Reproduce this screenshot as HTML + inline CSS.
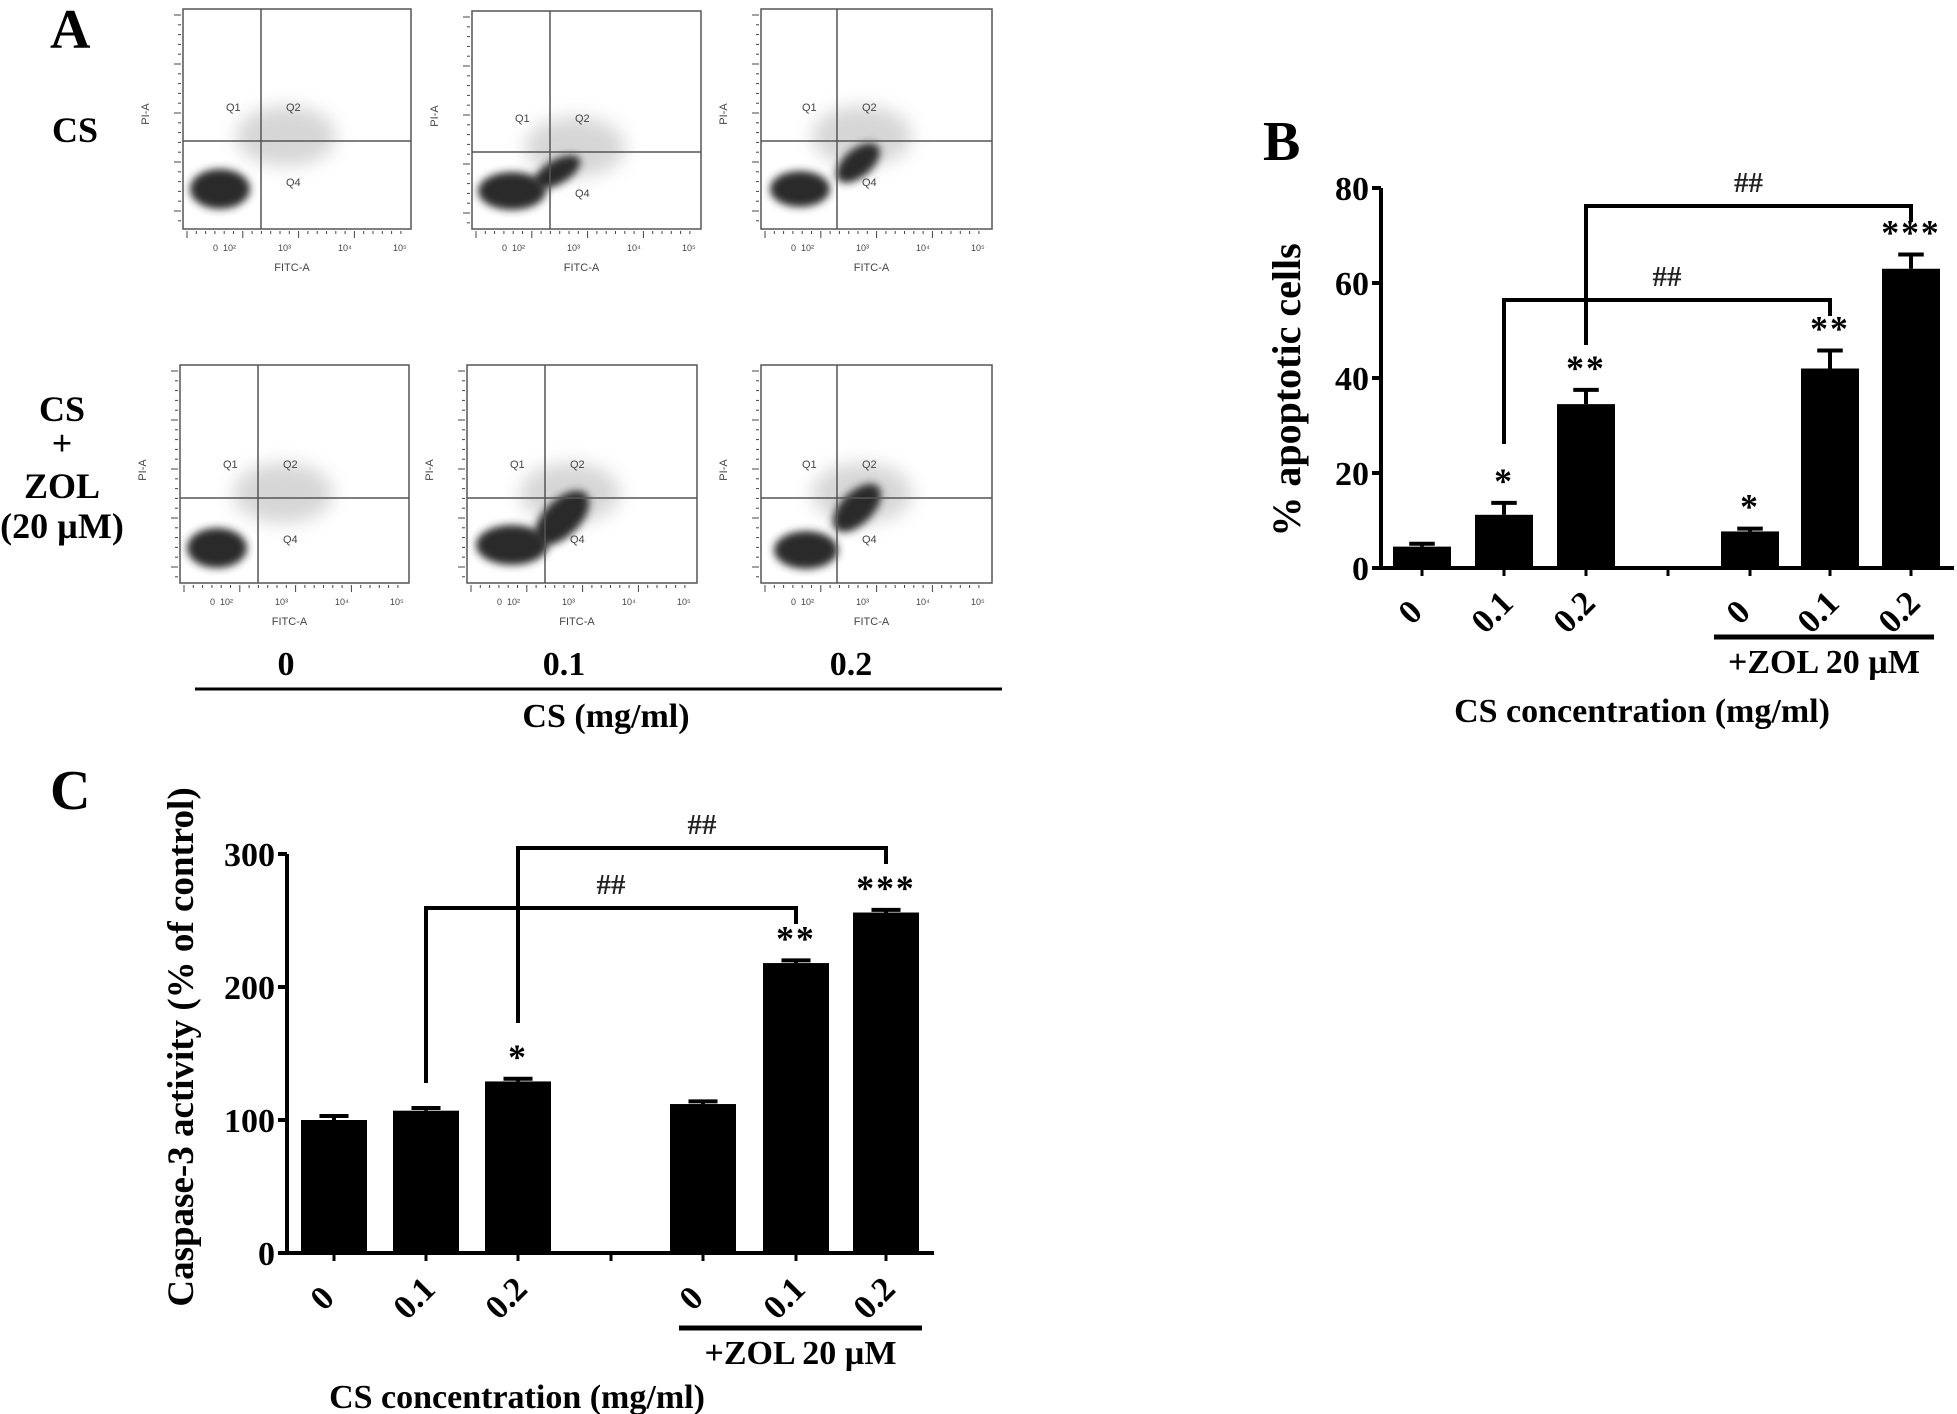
<!DOCTYPE html>
<html><head><meta charset="utf-8"><style>
html,body{margin:0;padding:0;background:#fff;}
svg{display:block;font-family:"Liberation Serif",serif;}
</style></head><body>
<svg id="fig" width="1957" height="1414" viewBox="0 0 1957 1414" xmlns="http://www.w3.org/2000/svg">
<defs><filter id="bl" x="-50%" y="-50%" width="200%" height="200%"><feGaussianBlur stdDeviation="4"/></filter>
<filter id="bl2" x="-50%" y="-50%" width="200%" height="200%"><feGaussianBlur stdDeviation="9"/></filter></defs>
<g id="panelA">
<text x="50" y="48" font-size="56" font-weight="bold">A</text>
<text x="75" y="142" font-size="36" font-weight="bold" text-anchor="middle">CS</text>
<g font-size="36" font-weight="bold" text-anchor="middle">
<text x="62" y="421">CS</text><text x="62" y="455">+</text><text x="62" y="498">ZOL</text><text x="62" y="538">(20 µM)</text></g>
<g id="flows"></g>
<g font-size="34" font-weight="bold" text-anchor="middle">
<text x="286" y="675">0</text>
<text x="564" y="675">0.1</text>
<text x="851" y="675">0.2</text>
<text x="606" y="727">CS (mg/ml)</text></g>
<line x1="195" y1="689" x2="1002" y2="689" stroke="#000" stroke-width="3"/>
</g>
<g id="panelB">
<text x="1263" y="160" font-size="56" font-weight="bold">B</text></g>
<g id="panelC">
<text x="50" y="809" font-size="56" font-weight="bold">C</text></g>
</svg>
<script>
// Panel B data
const bCategories = ["0","0.1","0.2","0","0.1","0.2"];
const bValues = [4.5, 11.2, 34.5, 7.7, 42, 63];
const bErrors = [0.6, 2.5, 3.0, 0.6, 3.8, 3.0];
const bStars = ["", "*", "**", "*", "**", "***"];
const bTicks = [0, 20, 40, 60, 80];
// Panel C data
const cCategories = ["0","0.1","0.2","0","0.1","0.2"];
const cValues = [100, 107, 129, 112, 218, 256];
const cErrors = [3, 2, 2, 2, 2, 2];
const cStars = ["", "", "*", "", "**", "***"];
const cTicks = [0, 100, 200, 300];

const NS = "http://www.w3.org/2000/svg";
function mk(parent, tag, attrs, text){
  const e = document.createElementNS(NS, tag);
  for (const k in attrs) e.setAttribute(k, attrs[k]);
  if (text !== undefined) e.textContent = text;
  parent.appendChild(e); return e;
}

function barChart(g, cfg){
  const {x0, x1, y0, yTop, vMax, centers, barW, cats, vals, errs, stars, ticks, fs, gapX, br, title, ylabel, zol, xlabY} = cfg;
  const ys = v => y0 - (v / vMax) * (y0 - yTop);
  vals.forEach((v, i) => {
    const cx = centers[i];
    const eTop = ys(v + errs[i]);
    const el = mk(g, "line", {x1: cx, x2: cx, y1: ys(v), y2: eTop, stroke: "#000", "stroke-width": 4});
    
    
    const cap = mk(g, "line", {x1: cx - barW * 0.22, x2: cx + barW * 0.22, y1: eTop, y2: eTop, stroke: "#000", "stroke-width": 4});
    
    
    const r = mk(g, "rect", {x: cx - barW / 2, y: ys(v), width: barW, height: y0 - ys(v), fill: "#000"});
    
    
    if (stars[i]) {
      const s = mk(g, "text", {x: cx, y: eTop - 10, "font-size": fs * 1.05, "font-weight": "bold", "text-anchor": "middle", "letter-spacing": 2}, stars[i]);
      
      
    }
    const t = mk(g, "text", {x: 0, y: 0, "font-size": fs, "font-weight": "bold", "text-anchor": "middle",
      transform: `translate(${cx - 4},${xlabY}) rotate(-45)`}, cats[i]);
    
    
    const tk = mk(g, "line", {x1: cx, x2: cx, y1: y0, y2: y0 + 8, stroke: "#000", "stroke-width": 3});
    
    
  });
  const gt = mk(g, "line", {x1: gapX, x2: gapX, y1: y0, y2: y0 + 8, stroke: "#000", "stroke-width": 3});
  
  
  const ya = mk(g, "line", {x1: x0, x2: x0, y1: ys(vMax), y2: y0 + 2, stroke: "#000", "stroke-width": 4});
  
  
  const xa = mk(g, "line", {x1: x0, x2: x1, y1: y0, y2: y0, stroke: "#000", "stroke-width": 4});
  
  
  ticks.forEach(t => {
    const l = mk(g, "line", {x1: x0 - 9, x2: x0, y1: ys(t), y2: ys(t), stroke: "#000", "stroke-width": 4});
    
    
    const tx = mk(g, "text", {x: x0 - 12, y: ys(t) + fs * 0.35, "font-size": fs, "font-weight": "bold", "text-anchor": "end"}, String(t));
    
    
  });
  br.forEach(b => {
    const p = mk(g, "path", {d: `M${centers[b.from]},${b.fromY} V${b.y} H${centers[b.to]} V${b.toY}`, fill: "none", stroke: "#000", "stroke-width": 4});
    
    
    const h = mk(g, "text", {x: (centers[b.from] + centers[b.to]) / 2, y: b.y - 14, "font-size": fs * 0.85, "font-weight": "bold", "text-anchor": "middle", fill: "#222"}, "##");
    
    
  });
  const yl = mk(g, "text", {x: 0, y: 0, "font-size": ylabel.fs, "font-weight": "bold", "text-anchor": "middle",
    transform: `translate(${ylabel.x},${ylabel.y}) rotate(-90)`}, ylabel.text);
  
  
  const zl = mk(g, "line", {x1: zol.x1, x2: zol.x2, y1: zol.y, y2: zol.y, stroke: "#000", "stroke-width": 5});
  
  
  const zt = mk(g, "text", {x: (zol.x1 + zol.x2) / 2, y: zol.y + 36, "font-size": fs, "font-weight": "bold", "text-anchor": "middle"}, "+ZOL 20 µM");
  
  
  const xt = mk(g, "text", {x: title.x, y: title.y, "font-size": fs, "font-weight": "bold", "text-anchor": "middle"}, "CS concentration (mg/ml)");
  
  
}

barChart(document.getElementById("panelB"), {
  x0: 1381, x1: 1954, y0: 568, yTop: 188, vMax: 80,
  centers: [1422, 1504, 1586, 1750, 1830, 1911], barW: 58,
  cats: bCategories, vals: bValues, errs: bErrors, stars: bStars, ticks: bTicks, fs: 34, gapX: 1668,
  br: [{from: 2, to: 5, y: 206, fromY: 345, toY: 222}, {from: 1, to: 4, y: 300, fromY: 444, toY: 316}],
  ylabel: {x: 1300, y: 390, text: "% apoptotic cells", fs: 40},
  zol: {x1: 1714, x2: 1934, y: 637}, title: {x: 1642, y: 722}, xlabY: 620
});
barChart(document.getElementById("panelC"), {
  x0: 287, x1: 934, y0: 1253, yTop: 854, vMax: 300,
  centers: [334, 426, 518, 703, 796, 886], barW: 66,
  cats: cCategories, vals: cValues, errs: cErrors, stars: cStars, ticks: cTicks, fs: 34, gapX: 611,
  br: [{from: 2, to: 5, y: 848, fromY: 1023, toY: 864}, {from: 1, to: 4, y: 908, fromY: 1083, toY: 924}],
  ylabel: {x: 193, y: 1047, text: "Caspase-3 activity (% of control)", fs: 37},
  zol: {x1: 679, x2: 922, y: 1328}, title: {x: 517, y: 1408}, xlabY: 1306
});

// Flow cytometry panels (illustrative density blobs)
const flowPlots = [
  {x:183,y:9,w:228,h:220,vx:261,hy:141,blobs:[[220,189,30,20]],tails:[]},
  {x:472,y:11,w:229,h:218,vx:550,hy:152,blobs:[[512,191,34,19]],tails:[[557,172,26,12,-30]]},
  {x:761,y:9,w:231,h:220,vx:837,hy:141,blobs:[[800,189,30,18]],tails:[[858,163,26,14,-40]]},
  {x:180,y:365,w:229,h:218,vx:258,hy:498,blobs:[[217,548,30,20]],tails:[]},
  {x:467,y:365,w:230,h:218,vx:545,hy:498,blobs:[[512,545,36,20]],tails:[[562,518,34,18,-45]]},
  {x:761,y:365,w:231,h:218,vx:837,hy:498,blobs:[[806,550,32,19]],tails:[[857,508,30,16,-45]]}
];
const fg = document.getElementById("flows");
flowPlots.forEach((p, i) => {
  const g = mk(fg, "g", {});
  
  
  mk(g, "ellipse", {cx: p.vx + 25, cy: p.hy - 5, rx: 50, ry: 30, fill: "#bbb", opacity: 0.6, filter: "url(#bl2)"});
  p.tails.forEach(t => mk(g, "ellipse", {cx: t[0], cy: t[1], rx: t[2], ry: t[3], fill: "#2a2a2a", filter: "url(#bl)", transform: `rotate(${t[4]},${t[0]},${t[1]})`}));
  p.blobs.forEach(b => mk(g, "ellipse", {cx: b[0], cy: b[1], rx: b[2], ry: b[3], fill: "#2a2a2a", filter: "url(#bl)"}));
  mk(g, "rect", {x: p.x, y: p.y, width: p.w, height: p.h, fill: "none", stroke: "#555", "stroke-width": 1.5});
  mk(g, "line", {x1: p.vx, x2: p.vx, y1: p.y, y2: p.y + p.h, stroke: "#555", "stroke-width": 1.5});
  mk(g, "line", {x1: p.x, x2: p.x + p.w, y1: p.hy, y2: p.hy, stroke: "#555", "stroke-width": 1.5});
  mk(g, "text", {x: p.vx - 35, y: p.hy - 30, "font-size": 11, fill: "#444", "font-family": "Liberation Sans, sans-serif"}, "Q1");
  mk(g, "text", {x: p.vx + 25, y: p.hy - 30, "font-size": 11, fill: "#444", "font-family": "Liberation Sans, sans-serif"}, "Q2");
  mk(g, "text", {x: p.vx + 25, y: p.hy + 45, "font-size": 11, fill: "#444", "font-family": "Liberation Sans, sans-serif"}, "Q4");
  for (let k = 0; k < 24; k++) mk(g, "line", {x1: p.x + 4 + k * 9.3, x2: p.x + 4 + k * 9.3, y1: p.y + p.h + 2, y2: p.y + p.h + (k % 6 === 0 ? 9 : 5), stroke: "#444", "stroke-width": 1});
  for (let k = 0; k < 22; k++) mk(g, "line", {x1: p.x - 2, x2: p.x - (k % 5 === 0 ? 9 : 5), y1: p.y + 6 + k * 9.8, y2: p.y + 6 + k * 9.8, stroke: "#444", "stroke-width": 1});
  const fs = "Liberation Sans, sans-serif";
  mk(g, "text", {x: p.x + p.w / 2 - 5, y: p.y + p.h + 42, "font-size": 11, fill: "#444", "text-anchor": "middle", "font-family": fs}, "FITC-A");
  mk(g, "text", {x: 0, y: 0, "font-size": 11, fill: "#444", "text-anchor": "middle", "font-family": fs, transform: `translate(${p.x - 34},${p.y + 105}) rotate(-90)`}, "PI-A");
  ["0", "10²", "10³", "10⁴", "10⁵"].forEach((s, k) => mk(g, "text", {x: p.x + 30 + [0, 10, 65, 125, 180][k], y: p.y + p.h + 22, "font-size": 9, fill: "#444", "font-family": fs}, s));
});
</script>
</body></html>
